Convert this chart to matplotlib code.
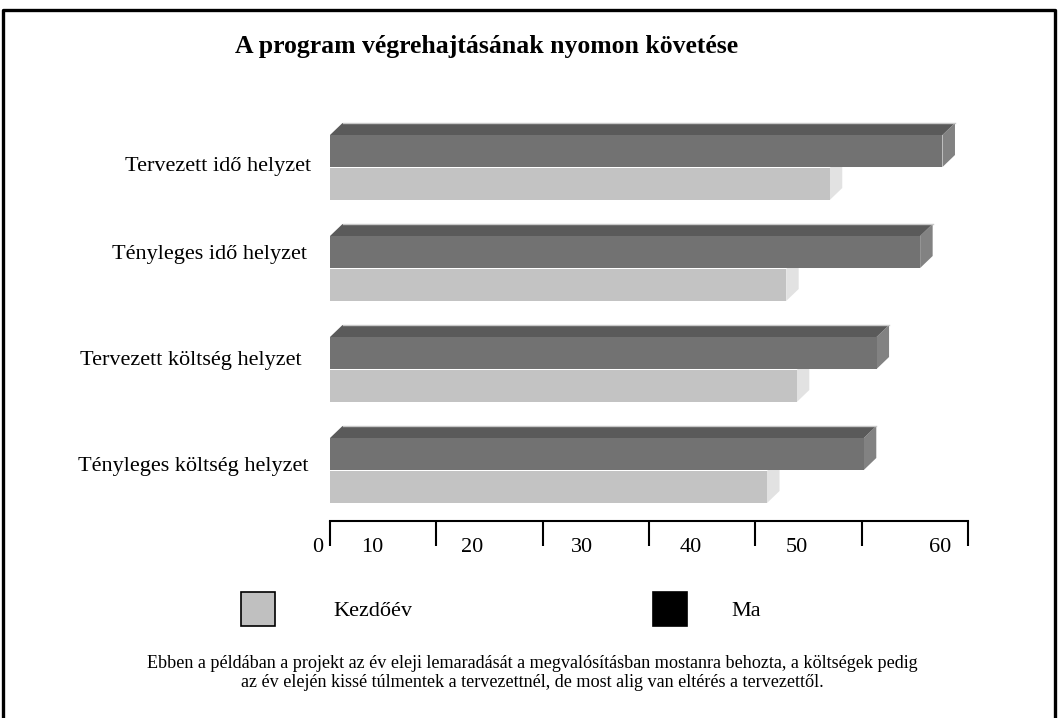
import matplotlib.pyplot as plt
from matplotlib.patches import Polygon, Rectangle

plt.rcParams['font.family'] = ['Liberation Serif', 'DejaVu Serif']

categories = ['Tervezett idő helyzet', 'Tényleges idő helyzet',
              'Tervezett költség helyzet', 'Tényleges költség helyzet']
kezdoev = [47.0, 42.9, 43.9, 41.1]
ma = [57.6, 55.5, 51.4, 50.2]
ticks = [0, 10, 20, 30, 40, 50, 60]
tick_labels = ['0', '10', '20', '30', '40', '50', '60']
title = 'A program végrehajtásának nyomon követése'
legend_labels = ['Kezdőév', 'Ma']
note = ('Ebben a példában a projekt az év eleji lemaradását a megvalósításban mostanra behozta, a költségek pedig\n'
        'az év elején kissé túlmentek a tervezettnél, de most alig van eltérés a tervezettől.')

W, H = 1058, 718
fig = plt.figure(figsize=(W / 100, H / 100), dpi=100)

# data axes: x in values, y in pixels from top
ax = fig.add_axes([0, 0, 1, 1])
ppu = 638 / 60.0
x0 = 330
ax.set_xlim(-x0 / ppu, (W - x0) / ppu)
ax.set_ylim(H, 0)
ax.axis('off')

# overlay in pixels for frame, text, legend
ov = fig.add_axes([0, 0, 1, 1], zorder=3)
ov.set_xlim(0, W)
ov.set_ylim(H, 0)
ov.axis('off')
ov.patch.set_alpha(0)

dx = 12.5 / ppu
dy = 12
bh = 32
pitch = 101


def bar3d(v, ytop, front, top, side, with_top=True):
    ybot = ytop + bh
    ax.add_patch(Polygon([(v, ytop), (v + dx, ytop - dy), (v + dx, ybot - dy), (v, ybot)],
                         closed=True, fc=side, ec='none'))
    if with_top:
        ax.add_patch(Polygon([(0, ytop), (dx, ytop - dy), (v + dx, ytop - dy), (v, ytop)],
                             closed=True, fc=top, ec='none'))
        ax.plot([dx, v + dx], [ytop - dy, ytop - dy], color='#c8c8c8', lw=1)
    ax.add_patch(Polygon([(0, ytop), (v, ytop), (v, ybot), (0, ybot)],
                         closed=True, fc=front, ec='none'))


label_x = [311, 307, 302, 308]
label_y = [167, 255, 361, 467]
for i, cat in enumerate(categories):
    g = 135 + i * pitch
    bar3d(kezdoev[i], g + bh + 1, '#c3c3c3', '#d0d0d0', '#e2e2e2', with_top=False)
    bar3d(ma[i], g, '#727272', '#5a5a5a', '#828282')
    ov.text(label_x[i], label_y[i], cat, ha='right', va='center', fontsize=16)

# value axis
ax.plot([ticks[0], ticks[-1]], [521, 521], color='black', lw=1.5)
ax.vlines(ticks, 521, 546, color='black', lw=1.5)
tick_lx = [-1.2, 4.0, 13.4, 23.7, 33.9, 43.9, 57.4]
for lx, t in zip(tick_lx, tick_labels):
    ax.text(lx, 547, t, ha='center', va='center', fontsize=16)

# title
ov.text(487, 46, title, ha='center', va='center', fontsize=18.5, fontweight='bold')

# legend
ov.add_patch(Rectangle((241, 592), 34, 34, fc='#c0c0c0', ec='black', lw=1.2))
ov.text(333, 611, legend_labels[0], ha='left', va='center', fontsize=16)
ov.add_patch(Rectangle((653, 592), 34, 34, fc='black', ec='black', lw=1.2))
ov.text(731, 611, legend_labels[1], ha='left', va='center', fontsize=16)

# note
ov.text(532, 673, note, ha='center', va='center', fontsize=13.1, linespacing=1.1)

# frame
ov.plot([3, 3, 1055, 1055], [H + 5, 10, 10, H + 5], color='black', lw=2.4, clip_on=False)

fig.savefig('out.png', dpi=100)
